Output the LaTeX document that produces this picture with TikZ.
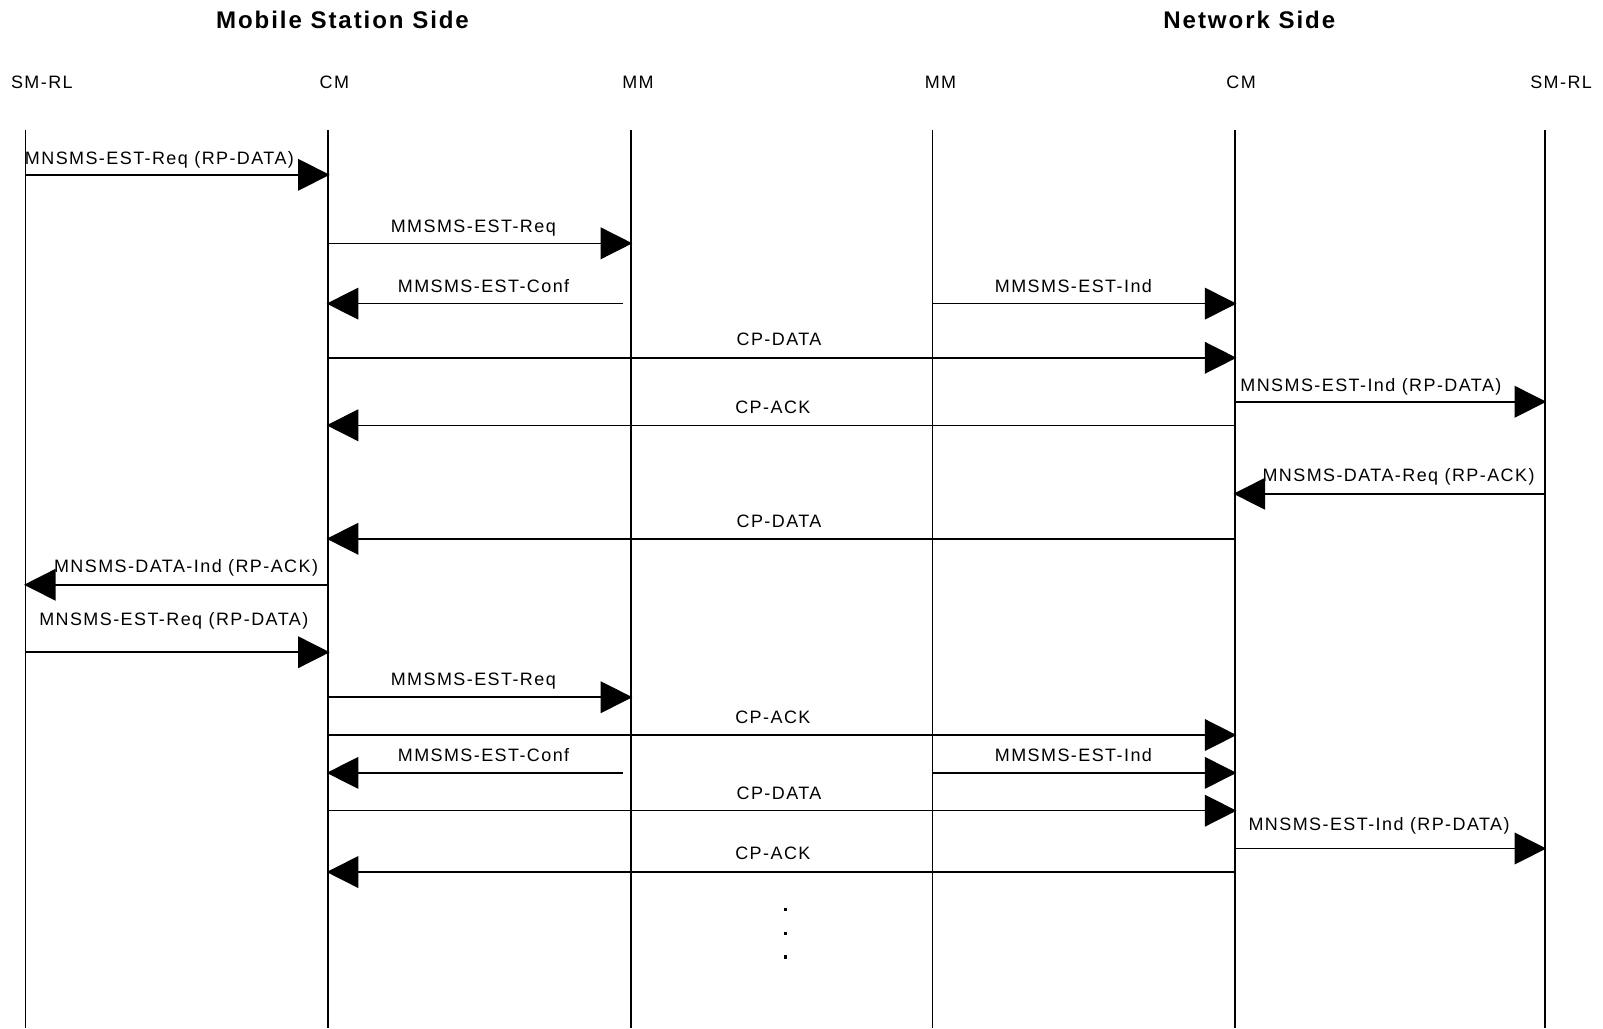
\documentclass[tikz,border=0pt]{standalone}
\usepackage{fontspec}
\usetikzlibrary{arrows.meta,calc}
\newfontfamily\lblfont[LetterSpace=8]{Liberation Sans}
\newfontfamily\hdrfont[LetterSpace=8]{Liberation Sans}
\begin{document}
\begin{tikzpicture}[x=0.02cm,y=-0.02cm,
  life/.style={line width=0.85pt},
  msg/.style={line width=0.85pt,-{Triangle[length=0.62cm,width=0.62cm]},shorten >=-0.03cm},
  lbl/.style={font=\lblfont\fontsize{10pt}{12pt}\selectfont,inner sep=0pt,anchor=base},
  hdr/.style={font=\hdrfont\bfseries\fontsize{13.4pt}{16pt}\selectfont,inner sep=0pt,anchor=base}]
\useasboundingbox[fill=white] (0,0) rectangle (1568,1006);
% headers
\node[hdr] (hms) at (335,28) {Mobile Station Side};
\node[hdr] (hnw) at (1222,28) {Network Side};
% column labels
\node[lbl] (tA) at (41,87) {SM-RL};
\node[lbl] (tB) at (327,87) {CM};
\node[lbl] (tC) at (624,87) {MM};
\node[lbl] (tD) at (920,87) {MM};
\node[lbl] (tE) at (1214,87) {CM};
\node[lbl] (tF) at (1527,87) {SM-RL};
% lifelines
\foreach \n/\x in {A/25,B/321,C/617,D/912,E/1208,F/1511}{
  \coordinate (\n) at (\x,127);
  \coordinate (\n end) at (\x,1006);
  \draw[life] (\n) -- (\n end);
}
\coordinate (Cl) at (609,127);
% messages
\foreach \i/\f/\t/\y/\lx/\ly/\txt in {
  1/A/B/171/156/161/{MNSMS-EST-Req (RP-DATA)},
  2/B/C/238/463/227/{MMSMS-EST-Req},
  3/Cl/B/297/473/286/{MMSMS-EST-Conf},
  4/D/E/297/1050/286/{MMSMS-EST-Ind},
  5/B/E/350/762/338/{CP-DATA},
  6/E/F/393/1341/383/{MNSMS-EST-Ind (RP-DATA)},
  7/E/B/416/756/404/{CP-ACK},
  8/F/E/483/1368/471/{MNSMS-DATA-Req (RP-ACK)},
  9/E/B/527/762/516/{CP-DATA},
  10/B/A/572/182/560/{MNSMS-DATA-Ind (RP-ACK)},
  11/A/B/638/170/612/{MNSMS-EST-Req (RP-DATA)},
  12/B/C/682/463/671/{MMSMS-EST-Req},
  13/B/E/719/756/708/{CP-ACK},
  14/Cl/B/756/473/745/{MMSMS-EST-Conf},
  15/D/E/756/1050/745/{MMSMS-EST-Ind},
  16/B/E/793/762/782/{CP-DATA},
  17/E/F/830/1349/812/{MNSMS-EST-Ind (RP-DATA)},
  18/E/B/853/756/841/{CP-ACK}}{
  \coordinate (m\i s) at (\f |- 0,\y);
  \coordinate (m\i e) at (\t |- 0,\y);
  \draw[msg] (m\i s) -- (m\i e);
  \node[lbl] (l\i) at (\lx,\ly) {\txt};
}
% continuation dots
\foreach \k/\y in {1/890,2/913,3/936}{
  \node[rectangle,fill=black,inner sep=0pt,minimum size=1.8pt] (dot\k) at (768,\y) {};
}
\end{tikzpicture}
\end{document}
